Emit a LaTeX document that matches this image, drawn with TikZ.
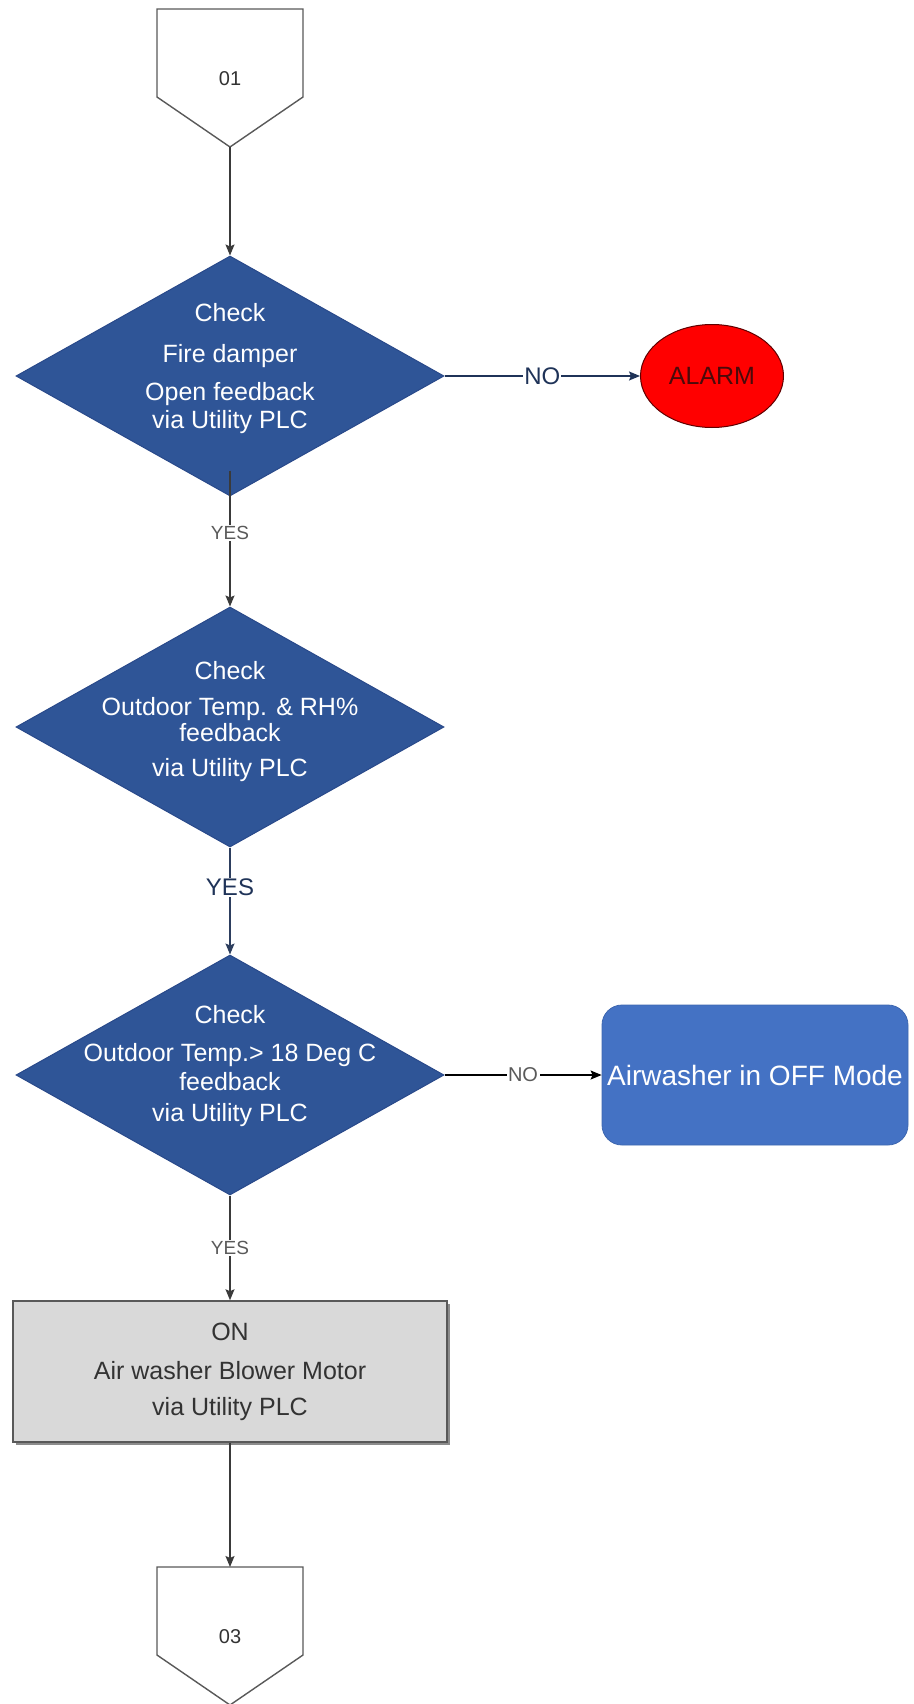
\documentclass[tikz,border=0pt]{standalone}
\usepackage{fontspec}
\setmainfont{Liberation Sans}
\usetikzlibrary{shapes.geometric,arrows.meta,shadows}
\definecolor{diafill}{HTML}{2F5597}
\definecolor{diadraw}{HTML}{29498A}
\definecolor{offfill}{HTML}{4472C4}
\definecolor{boxfill}{HTML}{D9D9D9}
\definecolor{boxdraw}{HTML}{595959}
\definecolor{navy}{HTML}{1F3358}
\definecolor{linegray}{HTML}{3A3A3A}
\definecolor{labgray}{HTML}{5A5A5A}
\definecolor{alarmtext}{HTML}{4A0A0A}
\definecolor{alarmdraw}{HTML}{600000}
\definecolor{pagetextc}{HTML}{333333}
\begin{document}
\begin{tikzpicture}[x=1pt,y=-1pt,
  decision/.style={shape=diamond, fill=diafill, draw=diadraw, line width=1pt,
    minimum width=428pt, minimum height=240pt, inner sep=0pt},
  dtext/.style={text=white, align=center, inner sep=0pt, font=\fontsize{25}{26}\selectfont},
  conn/.style={draw=linegray, line width=1.4pt, -{Stealth[length=11pt,width=9pt,inset=2pt]}},
  smalllab/.style={fill=white, inner sep=1.5pt, text=labgray, font=\fontsize{19}{22}\selectfont},
  biglab/.style={fill=white, inner sep=1pt, text=navy, font=\fontsize{24}{28}\selectfont},
  offpage/.style={rectangle, minimum width=146pt, minimum height=138pt, inner sep=0pt, outer sep=0pt,
    text=pagetextc, font=\fontsize{20}{24}\selectfont},
  pentline/.style={draw=boxdraw, line width=1.4pt, fill=white},
  alarmnode/.style={ellipse, fill=red, draw=alarmdraw, line width=1pt, minimum width=143pt,
    minimum height=103pt, inner sep=0pt, text=alarmtext, font=\fontsize{25}{28}\selectfont},
  offnode/.style={rectangle, rounded corners=20pt, fill=offfill, draw=offfill!90!black, line width=0.8pt,
    minimum width=306pt, minimum height=140pt, inner sep=0pt, text=white, font=\fontsize{28}{32}\selectfont},
  actnode/.style={rectangle, fill=boxfill, draw=boxdraw, line width=1.5pt, minimum width=434pt,
    minimum height=141pt, inner sep=0pt, align=center, text=pagetextc, font=\fontsize{25}{28}\selectfont,
    drop shadow={shadow xshift=3pt, shadow yshift=-3pt, fill=black, opacity=0.45}}
]
\useasboundingbox (0,0) rectangle (913,1704);

% off-page connector 01
\node[offpage] (c1) at (230,78) {};
\draw[pentline] (c1.north west) -- (c1.north east) -- ([yshift=50pt]c1.south east) -- (c1.south)
  -- ([yshift=50pt]c1.south west) -- cycle;
\node[offpage, minimum width=0pt, minimum height=0pt] (c1t) at (230,79) {01};

% decisions
\node[decision] (d1) at (230,376) {};
\node[dtext] (d1t) at (230,369) {Check\\[15pt]Fire damper\\[12pt]Open feedback\\[2pt]via Utility PLC};

\node[decision] (d2) at (230,727) {};
\node[dtext] (d2t) at (230,722) {Check\\[10pt]Outdoor Temp. \& RH\%\\feedback\\[9pt]via Utility PLC};

\node[decision] (d3) at (230,1075) {};
\node[dtext] (d3t) at (230,1066) {Check\\[12pt]Outdoor Temp.> 18 Deg C\\[3pt]feedback\\[5pt]via Utility PLC};

% alarm
\node[alarmnode] (alarm) at (712,376) {ALARM};

% airwasher off
\node[offnode] (off) at (755,1075) {Airwasher in OFF Mode};

% action box
\node[actnode] (on) at (230,1371.5) {ON\\[11pt]Air washer Blower Motor\\[8pt]via Utility PLC};

% off-page connector 03
\node[offpage] (c3) at (230,1636) {};
\draw[pentline] (c3.north west) -- (c3.north east) -- ([yshift=50pt]c3.south east) -- (c3.south)
  -- ([yshift=50pt]c3.south west) -- cycle;
\node[offpage, minimum width=0pt, minimum height=0pt] (c3t) at (230,1637) {03};

% connectors
\draw[conn] (c1.south) -- (d1.north);
\draw[conn, draw=navy] (d1.east) -- node[biglab] {NO} (alarm.west);
\draw[conn] ([yshift=26pt]d1.south) -- node[smalllab, pos=0.46] {YES} (d2.north);
\draw[conn, draw=navy!85!gray] (d2.south) -- node[biglab, pos=0.37] {YES} (d3.north);
\draw[conn, draw=black] (d3.east) -- node[smalllab, font=\fontsize{20}{22}\selectfont] {NO} (off.west);
\draw[conn] (d3.south) -- node[smalllab] {YES} (on.north);
\draw[conn] (on.south) -- (c3.north);
\end{tikzpicture}
\end{document}
